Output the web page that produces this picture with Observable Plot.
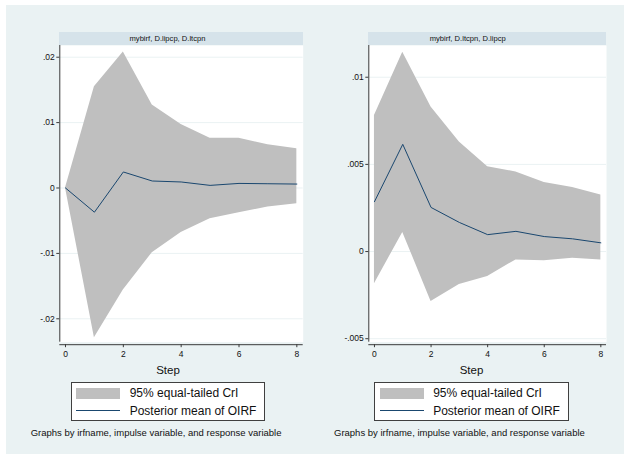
<!DOCTYPE html>
<html>
<head>
<meta charset="utf-8">
<script src="https://cdn.jsdelivr.net/npm/d3@7"></script>
<script src="https://cdn.jsdelivr.net/npm/@observablehq/plot@0.6"></script>
<style>
  html, body { margin: 0; padding: 0; background: #ffffff; }
  #root { position: relative; width: 629px; height: 459px; overflow: hidden; font-family: "Liberation Sans", Arial, sans-serif; }
  .bg { position: absolute; left: 6px; top: 5px; width: 618px; height: 449px; background: #eaf2f3; }
  .panel { position: absolute; top: 0; }
  .strip { position: absolute; background: #d6e3ea; }
  .t { position: absolute; white-space: nowrap; color: #111; line-height: 1; }
  .legend { position: absolute; background: #fff; border: 1px solid #404040; box-sizing: border-box; }
  .sw { position: absolute; }
</style>
</head>
<body>
<div id="root"><div class="bg"></div></div>
<script>
// ---- data ----
const steps = [0, 1, 2, 3, 4, 5, 6, 7, 8];

const leftTitle = "mybirf, D.lipcp, D.ltcpn";
const leftMean = [0, -0.0037, 0.00245, 0.00107, 0.00092, 0.0004, 0.0007, 0.00065, 0.0006];
const leftLo   = [0, -0.0229, -0.0156, -0.0099, -0.0068, -0.0047, -0.0038, -0.0029, -0.0024];
const leftHi   = [0, 0.0155, 0.0208, 0.0127, 0.0097, 0.0076, 0.0076, 0.0066, 0.0060];
const leftYTicks  = [-0.02, -0.01, 0, 0.01, 0.02];
const leftYLabels = ["-.02", "-.01", "0", ".01", ".02"];

const rightTitle = "mybirf, D.ltcpn, D.lipcp";
const rightMean = [0.00286, 0.00615, 0.00253, 0.00167, 0.00097, 0.00116, 0.00086, 0.00073, 0.0005];
const rightLo   = [-0.00185, 0.0011, -0.00286, -0.00189, -0.00143, -0.00048, -0.00053, -0.00038, -0.00048];
const rightHi   = [0.0078, 0.01143, 0.00829, 0.00629, 0.00487, 0.00457, 0.00396, 0.00367, 0.00324];
const rightYTicks  = [-0.005, 0, 0.005, 0.01];
const rightYLabels = ["-.005", "0", ".005", ".01"];

const xTicks = [0, 2, 4, 6, 8];
const xTitle = "Step";
const legendLabels = ["95% equal-tailed CrI", "Posterior mean of OIRF"];
const noteText = "Graphs by irfname, impulse variable, and response variable";

const FONT = '"Liberation Sans", Arial, sans-serif';
const root = document.getElementById("root");

function addText(txt, opts) {
  const d = document.createElement("div");
  d.className = "t";
  Object.assign(d.style, opts);
  d.textContent = txt;
  return d;
}

function panel(cfg) {
  const table = steps.map((s, i) => ({step: s, mean: cfg.mean[i], lo: cfg.lo[i], hi: cfg.hi[i]}));
  const labelOf = v => cfg.yLabels[cfg.yTicks.indexOf(v)];
  const axisColor = "#3a3a3a";
  const chart = Plot.plot({
    width: cfg.width,
    height: 459,
    marginLeft: cfg.ml,
    marginRight: cfg.mr,
    marginTop: 45,
    marginBottom: 117.3,
    style: {background: "transparent", fontFamily: FONT, fontSize: "8.5px", color: "#111", overflow: "visible"},
    x: {domain: cfg.xDomain, axis: null, label: null},
    y: {domain: cfg.yDomain, axis: null, label: null},
    marks: [
      Plot.frame({fill: "#ffffff", stroke: "none"}),
      Plot.gridY(cfg.yTicks, {stroke: "#eaf2f3", strokeOpacity: 1, strokeWidth: 1}),
      Plot.areaY(table, {x: "step", y1: "lo", y2: "hi", fill: "#bfbfbf", fillOpacity: 1}),
      Plot.lineY(table, {x: "step", y: "mean", stroke: "#1a476f", strokeWidth: 1}),
      Plot.ruleX([cfg.xDomain[0]], {stroke: axisColor, strokeWidth: 1}),
      Plot.axisY(cfg.yTicks, {tickSize: 3, tickPadding: 2, tickFormat: labelOf, stroke: axisColor, fill: "#111", fontSize: 8.5, label: null}),
      Plot.ruleY([cfg.yDomain[0]], {stroke: axisColor, strokeWidth: 1, dy: 2.5}),
      Plot.axisX(xTicks, {tickSize: 3, tickPadding: 3, dy: 2.5, stroke: axisColor, fill: "#111", fontSize: 8.5, tickFormat: d => String(d), label: null})
    ]
  });
  const wrap = document.createElement("div");
  wrap.className = "panel";
  wrap.style.left = cfg.left + "px";
  wrap.appendChild(chart);
  root.appendChild(wrap);

  // strip band
  const strip = document.createElement("div");
  strip.className = "strip";
  Object.assign(strip.style, {
    left: (cfg.left + cfg.ml) + "px", top: "32.3px",
    width: (cfg.width - cfg.ml - cfg.mr) + "px", height: "12.7px"
  });
  root.appendChild(strip);
  // strip title text (centred on the panel's graph region, as in the source)
  root.appendChild(addText(cfg.title, {
    left: cfg.titleCenter + "px", top: "35.2px", fontSize: "7.6px", transform: "translateX(-50%)"
  }));

  // x title
  root.appendChild(addText(xTitle, {
    left: cfg.center + "px", top: "365.2px", fontSize: "11.5px", transform: "translateX(-50%)"
  }));

  // legend
  const lg = document.createElement("div");
  lg.className = "legend";
  lg.style.left = (cfg.center - 97.3) + "px";
  lg.style.top = "382px";
  lg.style.width = "194.6px";
  lg.style.height = "39.3px";
  const sw1 = document.createElement("div");
  sw1.className = "sw";
  Object.assign(sw1.style, {left: "4.5px", top: "4.5px", width: "44px", height: "11.5px", background: "#bfbfbf"});
  const sw2 = document.createElement("div");
  sw2.className = "sw";
  Object.assign(sw2.style, {left: "4.5px", top: "27.3px", width: "44px", height: "1px", background: "#1a476f"});
  lg.append(sw1, sw2,
    addText(legendLabels[0], {left: "58px", top: "3.8px", fontSize: "12px"}),
    addText(legendLabels[1], {left: "58px", top: "21.8px", fontSize: "12px"}));
  root.appendChild(lg);

  // note
  root.appendChild(addText(noteText, {left: cfg.noteLeft + "px", top: "427.7px", fontSize: "9.5px"}));
}

panel({
  left: 0, width: 315, ml: 59.3, mr: 12.3,
  xDomain: [-0.197, 8.22], yDomain: [-0.02358, 0.02179],
  mean: leftMean, lo: leftLo, hi: leftHi,
  yTicks: leftYTicks, yLabels: leftYLabels,
  title: leftTitle, center: 168, titleCenter: 167.5, noteLeft: 30.7
});
panel({
  left: 315, width: 314, ml: 53.3, mr: 23,
  xDomain: [-0.2, 8.2], yDomain: [-0.0052, 0.01182],
  mean: rightMean, lo: rightLo, hi: rightHi,
  yTicks: rightYTicks, yLabels: rightYLabels,
  title: rightTitle, center: 471.5, titleCenter: 467.7, noteLeft: 334
});
</script>
</body>
</html>
